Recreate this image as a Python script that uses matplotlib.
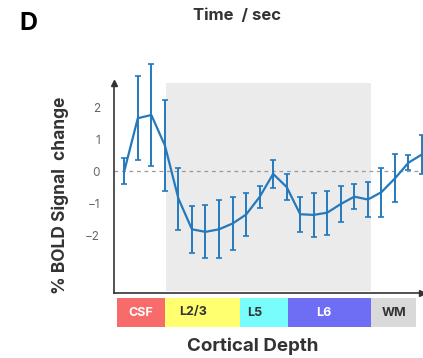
import numpy as np
import matplotlib
matplotlib.use("Agg")
import matplotlib.pyplot as plt

plt.rcParams['font.family'] = ['Inter', 'DejaVu Sans']

# mean % BOLD signal change along cortical depth (23 samples) and error
bold_mean = [0.0, 1.65, 1.75, 0.8, -0.86, -1.82, -1.9, -1.82, -1.64, -1.36,
             -0.81, -0.09, -0.5, -1.35, -1.37, -1.3, -1.03, -0.8, -0.89,
             -0.66, -0.23, 0.26, 0.52]
bold_err = [0.42, 1.32, 1.58, 1.43, 0.97, 0.73, 0.83, 0.91, 0.82, 0.66,
            0.34, 0.45, 0.4, 0.55, 0.69, 0.69, 0.55, 0.4, 0.55,
            0.77, 0.75, 0.23, 0.61]
depth = np.arange(len(bold_mean))

# cortical layers (edges in sample units)
layer_names = ['CSF', 'L2/3', 'L5', 'L6', 'WM']
layer_edges = [-0.52, 3.02, 8.53, 12.09, 18.23, 21.59]
layer_colors = ['#f76b6b', '#ffff70', '#78fcfc', '#6e6ef5', '#d9d9d9']
layer_text = ['white', '#333333', '#333333', 'white', '#333333']
label_shift = [0, -0.7, -0.7, -0.4, 0]
cortex_span = (3.07, 18.25)

W, H = 423, 358
fig = plt.figure(figsize=(W / 100, H / 100), dpi=100)

ax = fig.add_axes([114 / W, (H - 293) / H, (422 - 114) / W, (293 - 83) / H])
ax.set_xlim(-0.76, 22)
ax.set_ylim(-3.81, 2.75)

ax.axvspan(*cortex_span, ymin=0.01, ymax=1, color='#ebebeb', lw=0, zorder=0)
ax.axhline(0, color='#999999', lw=0.9, ls=(0, (3, 3)), zorder=1)

ax.errorbar(depth, bold_mean, yerr=bold_err, color='#2479bd', lw=1.6,
            elinewidth=1.4, capsize=2.5, capthick=1.2, clip_on=False, zorder=3)

for s in ['top', 'right']:
    ax.spines[s].set_visible(False)
for s in ['left', 'bottom']:
    ax.spines[s].set_color('#333333')
    ax.spines[s].set_linewidth(1.2)
ax.plot(0, 1, '^', color='#333333', ms=5, transform=ax.transAxes, clip_on=False)
ax.plot(1, 0, '>', color='#333333', ms=5, transform=ax.transAxes, clip_on=False)

ax.set_xticks([])
ax.set_yticks([2, 1, 0, -1, -2])
ax.tick_params(axis='y', length=0, pad=10, labelsize=8.5, labelcolor='#666666')
ax.set_ylabel('% BOLD Signal  change', fontsize=12.5, fontweight='bold',
              color='#333333')
ax.yaxis.set_label_coords(-0.146, 0.467)

# layer bar under the axis
lax = fig.add_axes([114 / W, (H - 326.7) / H, (422 - 114) / W, (326.7 - 298.3) / H])
lax.set_xlim(ax.get_xlim())
lax.set_ylim(0, 1)
lax.axis('off')
for i, name in enumerate(layer_names):
    x0, x1 = layer_edges[i], layer_edges[i + 1]
    lax.barh(0.5, x1 - x0, left=x0, height=1, color=layer_colors[i], lw=0)
    lax.text((x0 + x1) / 2 + label_shift[i], 0.5, name, ha='center', va='center',
             fontsize=9, fontweight='bold', color=layer_text[i])

fig.text(253 / W, 1 - 346 / H, 'Cortical Depth', ha='center', va='center',
         fontsize=13.5, fontweight='bold', color='#333333')
fig.text(237 / W, 1 - 15 / H, 'Time  / sec', ha='center', va='center',
         fontsize=12, fontweight='bold', color='#333333')
fig.text(28 / W, 1 - 23 / H, 'D', ha='center', va='center',
         fontsize=18, fontweight='bold', color='black')

fig.savefig('out.png', dpi=100)
